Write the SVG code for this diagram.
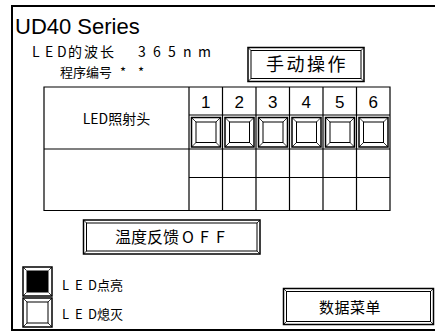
<svg xmlns="http://www.w3.org/2000/svg" width="435" height="333" viewBox="0 0 435 333">
<style>
  text { font-family: "Liberation Sans", "Noto Sans CJK SC", sans-serif; fill: #000; }
  .cjk { font-family: "Noto Sans CJK SC", "Liberation Sans", sans-serif; }
  .o { fill: #fff; stroke: #000; stroke-width: 1.5; }
  .i { fill: none; stroke: #000; stroke-width: 1; }
  .d { stroke: #000; stroke-width: 0.8; }
  .grid { stroke: #000; stroke-width: 1.2; fill: none; }
  .frame { stroke: #000; fill: none; }
</style>
<rect width="435" height="333" fill="#fff"/>
<g id="frame">
  <path class="frame" d="M436,6 H12 V330 H436" stroke-width="2"/>
</g>
<g id="title">
  <text x="15" y="34" font-size="22">UD40 Series</text>
  <text class="cjk" y="57" font-size="14"><tspan x="32 45 57">LED</tspan><tspan x="68 84 100">的波长</tspan><tspan x="138 153 168 183 198">365nm</tspan></text>
  <text class="cjk" y="77" font-size="13"><tspan x="60">程序编号</tspan><tspan x="120 138">**</tspan></text>
</g>
<g id="btn-manual">
  <rect class="o" x="248" y="47.5" width="116" height="34"/>
  <rect class="i" x="251" y="50.5" width="110" height="28"/>
  <path class="d" d="M248,47.5 L251,50.5 M364,47.5 L361,50.5 M248,81.5 L251,78.5 M364,81.5 L361,78.5"/>
  <text class="cjk" x="307" y="71" font-size="18" letter-spacing="2.5" text-anchor="middle">手动操作</text>
</g>
<g id="table">
  <path class="grid" d="M44,87 H390 V210.5 H44 Z M44,149 H390 M189,115 H390 M189,177.5 H390 M189,87 V210.5 M222.5,87 V210.5 M256,87 V210.5 M289.5,87 V210.5 M323,87 V210.5 M356.5,87 V210.5"/>
  <text class="cjk" x="116.5" y="124" font-size="14" text-anchor="middle">LED照射头</text>
  <g font-size="17" text-anchor="middle">
    <text x="205.75" y="108">1</text>
    <text x="239.25" y="108">2</text>
    <text x="272.75" y="108">3</text>
    <text x="306.25" y="108">4</text>
    <text x="339.75" y="108">5</text>
    <text x="373.25" y="108">6</text>
  </g>
</g>
<g id="led-buttons">
  <g id="led1">
    <rect class="o" x="191.5" y="117.5" width="29" height="29.5" stroke-width="2"/>
    <rect class="i" x="196" y="122" width="20" height="20.5" stroke-width="1.3"/>
    <path class="d" d="M191.5,117.5 L196,122 M220.5,117.5 L216,122 M191.5,147 L196,142.5 M220.5,147 L216,142.5"/>
  </g>
  <g id="led2" transform="translate(33.5,0)">
    <rect class="o" x="191.5" y="117.5" width="29" height="29.5" stroke-width="2"/>
    <rect class="i" x="196" y="122" width="20" height="20.5" stroke-width="1.3"/>
    <path class="d" d="M191.5,117.5 L196,122 M220.5,117.5 L216,122 M191.5,147 L196,142.5 M220.5,147 L216,142.5"/>
  </g>
  <g id="led3" transform="translate(67,0)">
    <rect class="o" x="191.5" y="117.5" width="29" height="29.5" stroke-width="2"/>
    <rect class="i" x="196" y="122" width="20" height="20.5" stroke-width="1.3"/>
    <path class="d" d="M191.5,117.5 L196,122 M220.5,117.5 L216,122 M191.5,147 L196,142.5 M220.5,147 L216,142.5"/>
  </g>
  <g id="led4" transform="translate(100.5,0)">
    <rect class="o" x="191.5" y="117.5" width="29" height="29.5" stroke-width="2"/>
    <rect class="i" x="196" y="122" width="20" height="20.5" stroke-width="1.3"/>
    <path class="d" d="M191.5,117.5 L196,122 M220.5,117.5 L216,122 M191.5,147 L196,142.5 M220.5,147 L216,142.5"/>
  </g>
  <g id="led5" transform="translate(134,0)">
    <rect class="o" x="191.5" y="117.5" width="29" height="29.5" stroke-width="2"/>
    <rect class="i" x="196" y="122" width="20" height="20.5" stroke-width="1.3"/>
    <path class="d" d="M191.5,117.5 L196,122 M220.5,117.5 L216,122 M191.5,147 L196,142.5 M220.5,147 L216,142.5"/>
  </g>
  <g id="led6" transform="translate(167.5,0)">
    <rect class="o" x="191.5" y="117.5" width="29" height="29.5" stroke-width="2"/>
    <rect class="i" x="196" y="122" width="20" height="20.5" stroke-width="1.3"/>
    <path class="d" d="M191.5,117.5 L196,122 M220.5,117.5 L216,122 M191.5,147 L196,142.5 M220.5,147 L216,142.5"/>
  </g>
</g>
<g id="btn-temp">
  <rect class="o" x="83.5" y="220" width="176.5" height="34"/>
  <rect class="i" x="86.5" y="223" width="170.5" height="28"/>
  <path class="d" d="M83.5,220 L86.5,223 M260,220 L257,223 M83.5,254 L86.5,251 M260,254 L257,251"/>
  <text class="cjk" y="243" font-size="16"><tspan x="115">温度反馈</tspan><tspan x="182 200 216">OFF</tspan></text>
</g>
<g id="legend-on">
  <rect class="o" x="23" y="267" width="29" height="29"/>
  <rect x="26.5" y="270.5" width="22" height="22" fill="#000"/>
  <path class="d" d="M23,267 L26.5,270.5 M52,267 L48.5,270.5 M23,296 L26.5,292.5 M52,296 L48.5,292.5"/>
  <text class="cjk" y="290" font-size="13"><tspan x="62 75 88">LED</tspan><tspan x="97">点亮</tspan></text>
</g>
<g id="legend-off">
  <rect class="o" x="23" y="298" width="29" height="29"/>
  <rect class="i" x="27" y="302" width="21" height="21"/>
  <path class="d" d="M23,298 L27,302 M52,298 L48,302 M23,327 L27,323 M52,327 L48,323"/>
  <text class="cjk" y="319" font-size="13"><tspan x="62 75 88">LED</tspan><tspan x="97">熄灭</tspan></text>
</g>
<g id="btn-data">
  <rect class="o" x="283.5" y="288.5" width="150" height="36"/>
  <rect class="i" x="286.5" y="291.5" width="144" height="30"/>
  <path class="d" d="M283.5,288.5 L286.5,291.5 M433.5,288.5 L430.5,291.5 M283.5,324.5 L286.5,321.5 M433.5,324.5 L430.5,321.5"/>
  <text class="cjk" x="350" y="313" font-size="15" letter-spacing="0.5" text-anchor="middle">数据菜单</text>
</g>
</svg>
